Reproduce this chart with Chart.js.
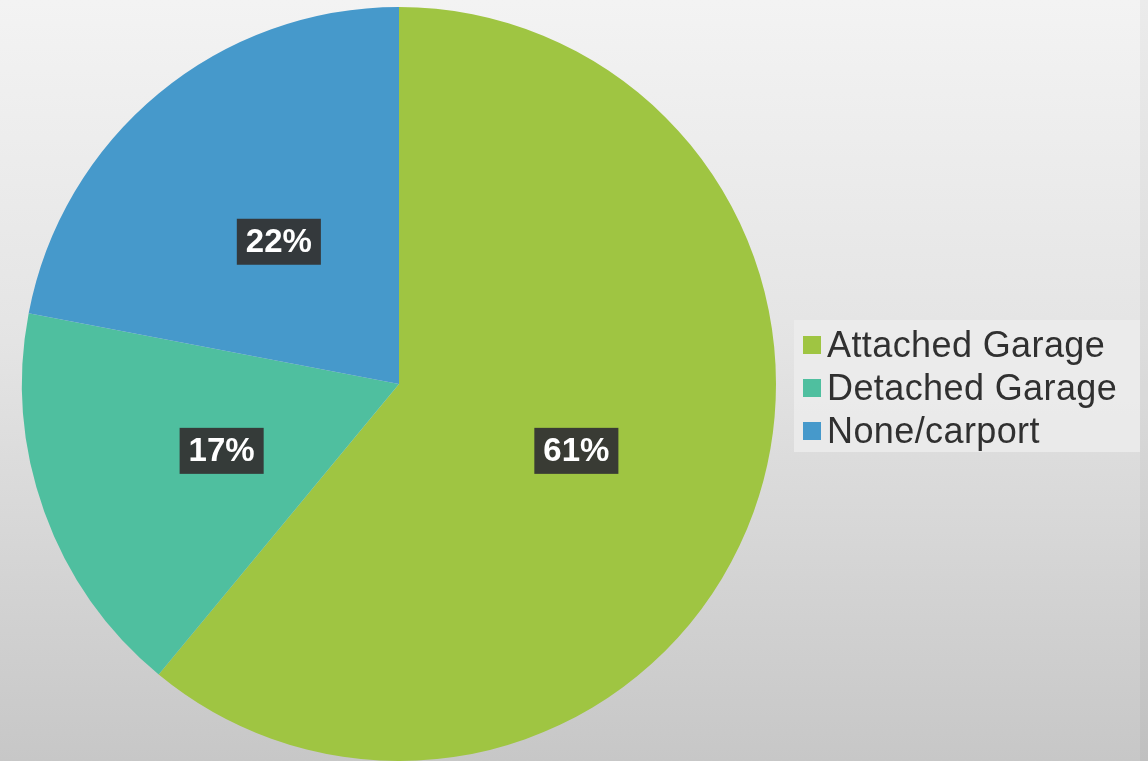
<!DOCTYPE html>
<html>
<head>
<meta charset="utf-8">
<script src="https://cdn.jsdelivr.net/npm/chart.js@4/dist/chart.umd.min.js"></script>
<style>
    html, body {
        margin: 0;
        padding: 0;
    }
    #wrap {
        position: relative;
        width: 1148px;
        height: 761px;
        background: linear-gradient(to bottom, #f3f3f3 0%, #e4e4e4 45%, #c7c7c7 100%);
        overflow: hidden;
    }
    #pie {
        position: absolute;
        left: 0;
        top: 0;
    }
    #legend {
        position: absolute;
        left: 794px;
        top: 320px;
        width: 346px;
        height: 132px;
        background: rgba(236, 236, 236, 0.85);
        font-family: "Liberation Sans", Arial, sans-serif;
        font-size: 36px;
        letter-spacing: 0.4px;
        color: #303030;
        box-sizing: border-box;
        padding-top: 3px;
    }
    .item {
        display: flex;
        align-items: center;
        height: 43px;
    }
    .box {
        width: 18px;
        height: 18px;
        margin-left: 9px;
        margin-right: 6px;
    }
    #edge {
        position: absolute;
        right: 0;
        top: 0;
        width: 8px;
        height: 761px;
        background: rgba(0, 0, 0, 0.03);
    }
</style>
</head>
<body>
<div id="wrap">
    <canvas id="pie" width="1148" height="761"></canvas>
    <div id="legend"></div>
    <div id="edge"></div>
</div>
<script>
// garage types, share of homes in percent
const categories = ['Attached Garage', 'Detached Garage', 'None/carport']
const shares = [61, 17, 22]
const colors = ['#9fc542', '#4fbf9f', '#4699cb']

// dark box with the percentage on each slice
const sliceLabels = {
    id: 'sliceLabels',
    afterDatasetsDraw: (chart) => {
        const {ctx} = chart
        const arcs = chart.getDatasetMeta(0).data
        ctx.save()
        ctx.font = 'bold 33px "Liberation Sans", Arial, sans-serif'
        ctx.textAlign = 'center'
        ctx.textBaseline = 'middle'
        arcs.forEach((arc, i) => {
            const pos = arc.tooltipPosition()
            const y = pos.y + 3
            const text = shares[i] + '%'
            const w = ctx.measureText(text).width + 18
            const h = 46
            ctx.fillStyle = 'rgba(52, 52, 52, 0.95)'
            ctx.fillRect(pos.x - w / 2, y - h / 2, w, h)
            ctx.fillStyle = '#ffffff'
            ctx.fillText(text, pos.x, y + 1)
        })
        ctx.restore()
    }
}

new Chart(document.getElementById('pie'), {
    type: 'pie',
    data: {
        labels: categories,
        datasets: [{
            data: shares,
            backgroundColor: colors,
            borderWidth: 0
        }]
    },
    options: {
        responsive: false,
        animation: false,
        layout: {
            padding: {left: 21, top: 7, right: 371, bottom: 0}
        },
        plugins: {
            legend: {display: false},
            tooltip: {enabled: false}
        }
    },
    plugins: [sliceLabels]
})

// legend on the right
const legend = document.getElementById('legend')
categories.forEach((name, i) => {
    const row = document.createElement('div')
    row.className = 'item'
    const box = document.createElement('span')
    box.className = 'box'
    box.style.background = colors[i]
    const label = document.createElement('span')
    label.textContent = name
    row.appendChild(box)
    row.appendChild(label)
    legend.appendChild(row)
})
</script>
</body>
</html>
